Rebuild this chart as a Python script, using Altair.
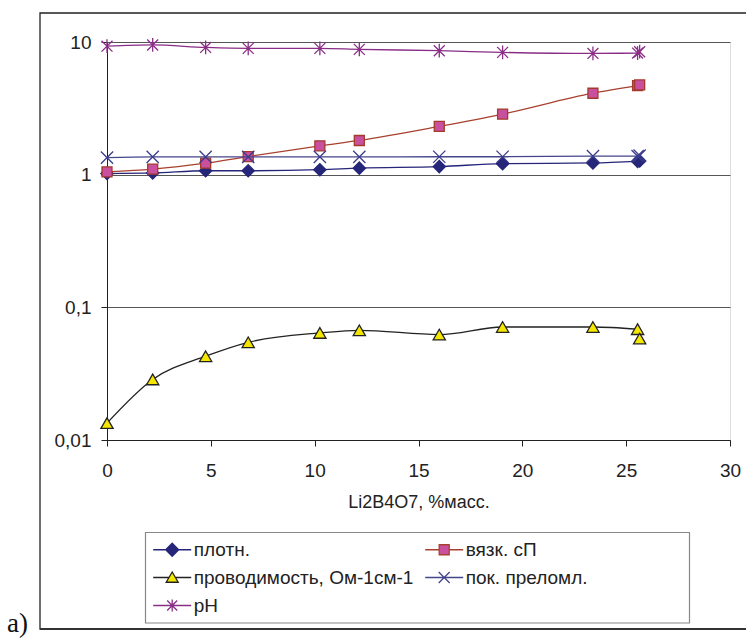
import altair as alt
import pandas as pd

# ---- data ----
x_vals = [0, 2.2, 4.75, 6.8, 10.25, 12.15, 16.0, 19.05, 23.4, 25.55, 25.65]
density = [1.02, 1.03, 1.07, 1.07, 1.09, 1.12, 1.15, 1.21, 1.225, 1.26, 1.27]
viscosity = [1.05, 1.10, 1.22, 1.37, 1.65, 1.81, 2.31, 2.86, 4.11, 4.69, 4.75]
conductivity = [0.0134, 0.0286, 0.0428, 0.0545, 0.0641, 0.0671, 0.0623, 0.0711, 0.0711, 0.0684, 0.0582]
refr_index = [1.345, 1.36, 1.36, 1.36, 1.36, 1.36, 1.365, 1.365, 1.38, 1.38, 1.39]
ph = [9.3, 9.5, 9.1, 8.95, 8.95, 8.8, 8.6, 8.35, 8.2, 8.25, 8.45]

series_names = ["плотн.", "вязк. сП", "проводимость, Ом-1см-1", "пок. преломл.", "pH"]
series_values = [density, viscosity, conductivity, refr_index, ph]
x_ticks = [0, 5, 10, 15, 20, 25, 30]
y_ticks = [0.01, 0.1, 1, 10]
x_title = "Li2B4O7, %масс."
panel_label = "а)"

# ---- styles ----
line_colors = ["#25257A", "#A8402E", "#222222", "#45458E", "#8A2D87"]
marker_fill = ["#25257A", "#C8509E", "#F5E600", "#3B3B8C", "#8A2D87"]
marker_stroke = ["#25257A", "#A33A2C", "#222222", "#3B3B8C", "#8A2D87"]
marker_shape = [
    "diamond",
    "square",
    "triangle-up",
    "M-1,-1L1,1M1,-1L-1,1",
    "M-1,-1L1,1M1,-1L-1,1M0,-1.25V1.25",
]
marker_size = [150, 100, 150, 150, 120]
marker_filled = [True, True, True, False, False]
legend_paths = [
    "M-1,0H1.5M4.1,0H6.6M2.8,-1.3L4.1,0L2.8,1.3L1.5,0Z",
    "M-1,0H1.8M3.8,0H6.6M1.8,-1H3.8V1H1.8Z",
    "M-1,0H2.16M3.44,0H6.6M2.8,-1.1L4,0.95H1.6Z",
    "M-1,0H6.6M1.7,-1.1L3.9,1.1M3.9,-1.1L1.7,1.1",
    "M-1,0H6.6M1.8,-1L3.8,1M3.8,-1L1.8,1M2.8,-1.2V1.2",
]

rows = []
for name, vals in zip(series_names, series_values):
    for i, (xv, yv) in enumerate(zip(x_vals, vals)):
        rows.append({"x": xv, "value": yv, "series": name, "idx": i})
df = pd.DataFrame(rows)
one = pd.DataFrame({"k": [0]})

FONT = "Liberation Sans"

x_enc = alt.X(
    "x:Q",
    scale=alt.Scale(domain=[0, 30], nice=False),
    axis=alt.Axis(
        values=x_ticks, title=x_title, grid=False, labelFontSize=19, titleFontSize=18,
        titleFontWeight="normal", titleColor="#222", labelColor="#222",
        tickSize=6, tickColor="#222", domainColor="#222", labelPadding=15,
        titlePadding=13, labelFont=FONT, titleFont=FONT, labelFlush=False,
    ),
)
y_enc = alt.Y(
    "value:Q",
    scale=alt.Scale(type="log", domain=[0.01, 10], nice=False),
    axis=alt.Axis(
        values=y_ticks, title=None, grid=True, gridColor="#555555", gridWidth=1,
        labelExpr="replace(format(datum.value, '~g'), '.', ',')",
        labelFontSize=19, labelColor="#222", tickSize=6, tickColor="#222",
        domainColor="#222", labelPadding=10, labelFont=FONT, labelFlush=False,
    ),
)

layers = []

# outer figure frame
layers.append(
    alt.Chart(one).mark_rect(fill="transparent", stroke="#222", strokeWidth=1.3).encode(
        x=alt.value(-67), x2=alt.value(660), y=alt.value(-29), y2=alt.value(587)
    )
)
layers.append(
    alt.Chart(one).mark_rule(stroke="#333", strokeWidth=2).encode(
        x=alt.value(-67), x2=alt.value(660), y=alt.value(587)
    )
)
# legend box
layers.append(
    alt.Chart(one).mark_rect(fill="white", stroke="#888", strokeWidth=1.2).encode(
        x=alt.value(38.5), x2=alt.value(582.5), y=alt.value(490.5), y2=alt.value(581)
    )
)
# panel label
layers.append(
    alt.Chart(one).mark_text(
        text=panel_label, font="Liberation Serif", fontSize=27, align="left",
        baseline="alphabetic", color="#111",
    ).encode(x=alt.value(-100), y=alt.value(590))
)

for k, name in enumerate(series_names):
    base = alt.Chart(df).transform_filter(alt.datum.series == name)
    layers.append(
        base.transform_filter("datum.idx < 10").mark_line(
            interpolate="monotone", color=line_colors[k], strokeWidth=1.3
        ).encode(x=x_enc, y=y_enc)
    )
    layers.append(
        base.mark_point(
            shape=marker_shape[k], size=marker_size[k], filled=marker_filled[k],
            fill=marker_fill[k] if marker_filled[k] else "transparent",
            stroke=marker_stroke[k], strokeWidth=1.3, opacity=1,
        ).encode(x=x_enc, y=y_enc)
    )

legend = alt.Legend(
    title=None, orient="none", legendX=41.7, legendY=498, columns=2,
    direction="horizontal",
    labelFontSize=19, labelFont=FONT, labelColor="#222", labelLimit=600,
    symbolSize=100, symbolStrokeWidth=1.3, labelOffset=26, rowPadding=8,
    columnPadding=7, padding=0,
)
layers.append(
    alt.Chart(df).transform_filter("datum.idx < 0").mark_point(
        filled=True, size=100, opacity=1, strokeWidth=1.3
    ).encode(
        x=x_enc, y=y_enc,
        shape=alt.Shape("series:N", scale=alt.Scale(domain=series_names, range=legend_paths), legend=legend),
        fill=alt.Fill("series:N", scale=alt.Scale(domain=series_names, range=marker_fill), legend=legend),
        stroke=alt.Stroke("series:N", scale=alt.Scale(domain=series_names, range=line_colors), legend=legend),
    )
)

chart = alt.layer(*layers).properties(
    width=623, height=398,
    padding={"left": 107, "top": 42, "right": 16, "bottom": 200},
    autosize=alt.AutoSizeParams(type="none"),
    background="white",
).configure_view(stroke="#888", strokeWidth=1).configure(font=FONT)

chart.save("out.html", embed_options={"renderer": "svg", "actions": False})
